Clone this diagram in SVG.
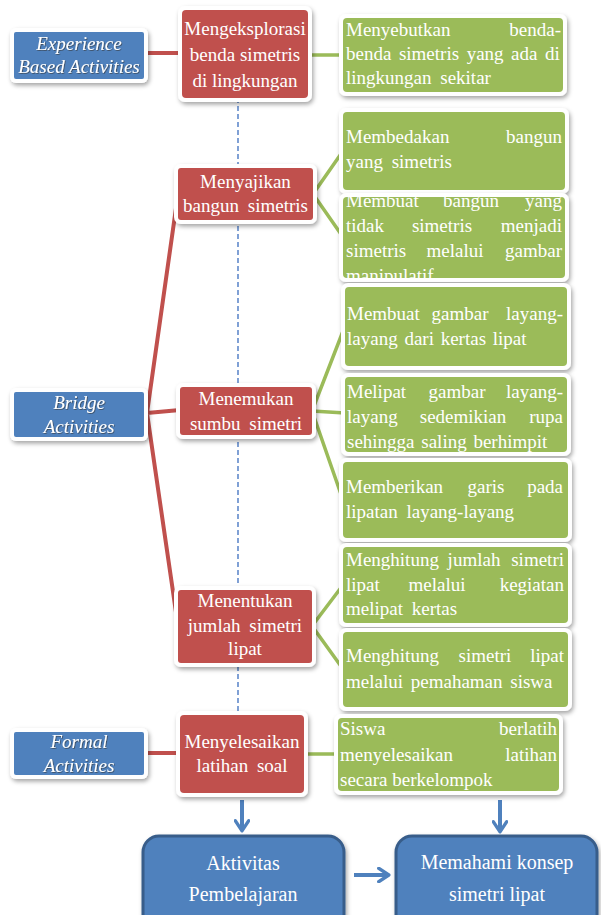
<svg xmlns="http://www.w3.org/2000/svg" width="601" height="915" viewBox="0 0 601 915">
<defs>
<style>
text{font-family:"Liberation Serif","Times New Roman",serif;font-size:19px;fill:#fff}
.c{text-anchor:middle}
.e{text-anchor:end}
.it{font-style:italic;filter:url(#tsh)}
.frame{fill:#fff;filter:url(#sh)}
.red{fill:#C0504D}
.grn{fill:#9BBB59}
.blu{fill:#4F81BD}
.big{fill:#4F81BD;stroke:#385D8A;stroke-width:3;filter:url(#sh)}
.rl{stroke:#C0504D;stroke-width:4;fill:none;stroke-linecap:round}
.gl{stroke:#9BBB59;stroke-width:3.5;fill:none;stroke-linecap:round}
.dash{stroke:#3C6FBF;stroke-width:1.3;stroke-dasharray:5 3;fill:none}
.arr{stroke:#4F81BD;stroke-width:4;fill:none;marker-end:url(#ah)}
.bt{font-size:20px}
</style>
<filter id="sh" x="-10%" y="-10%" width="125%" height="135%">
<feDropShadow dx="1.5" dy="2.5" stdDeviation="2" flood-color="#000" flood-opacity="0.35"/>
</filter>
<filter id="tsh" x="-10%" y="-20%" width="120%" height="150%">
<feDropShadow dx="0.8" dy="0.8" stdDeviation="0.6" flood-color="#333" flood-opacity="0.7"/>
</filter>
<marker id="ah" viewBox="0 0 10 10" refX="7" refY="5" markerWidth="4.2" markerHeight="4.2" orient="auto" markerUnits="strokeWidth">
<path d="M1.5,1 L7.5,5 L1.5,9" fill="none" stroke="#4F81BD" stroke-width="2" stroke-linecap="round" stroke-linejoin="round"/>
</marker>
<clipPath id="clipG3"><rect x="343" y="197" width="222" height="81"/></clipPath>
</defs>
<rect width="601" height="915" fill="#fff"/>

<g id="connectors">
<line class="dash" x1="238" y1="98" x2="238" y2="712"/>
<line class="rl" x1="144" y1="53" x2="182" y2="53"/>
<path class="rl" d="M178,194 L147,413 L178,626 M147,413 L180,410"/>
<line class="rl" x1="144" y1="753" x2="180" y2="753"/>
<line class="gl" x1="308" y1="55" x2="343" y2="55"/>
<path class="gl" d="M343,151 L313,194 L343,237"/>
<path class="gl" d="M345,326 L312,411 L343,500 M312,411 L345,413"/>
<path class="gl" d="M343,585 L312,626 L343,669"/>
<line class="gl" x1="304" y1="754" x2="338" y2="754"/>
<line class="arr" x1="242" y1="800" x2="242" y2="830"/>
<line class="arr" x1="500" y1="800" x2="500" y2="831"/>
<line class="arr" x1="354" y1="875" x2="388" y2="875"/>
</g>

<g id="experience">
<rect class="frame" x="10" y="28" width="138" height="55" rx="6"/>
<rect class="blu" x="14" y="32" width="130" height="47" rx="2"/>
<text class="c it" x="79" y="50">Experience</text>
<text class="c it" x="79" y="73">Based Activities</text>
</g>
<g id="bridge">
<rect class="frame" x="10" y="388" width="138" height="53" rx="6"/>
<rect class="blu" x="14" y="392" width="130" height="45" rx="2"/>
<text class="c it" x="79" y="409">Bridge</text>
<text class="c it" x="79" y="433">Activities</text>
</g>
<g id="formal">
<rect class="frame" x="10" y="728" width="138" height="51" rx="6"/>
<rect class="blu" x="14" y="732" width="130" height="43" rx="2"/>
<text class="c it" x="79" y="748">Formal</text>
<text class="c it" x="79" y="772">Activities</text>
</g>

<g id="r1">
<rect class="frame" x="178" y="6" width="134" height="96" rx="7"/>
<rect class="red" x="182" y="10" width="126" height="88" rx="4"/>
<text class="c" x="245" y="35">Mengeksplorasi</text>
<text class="c" x="245" y="61">benda simetris</text>
<text class="c" x="245" y="87">di lingkungan</text>
</g>
<g id="r2">
<rect class="frame" x="174" y="164" width="143" height="60" rx="7"/>
<rect class="red" x="178" y="168" width="135" height="52" rx="3"/>
<text class="c" x="245.5" y="188">Menyajikan</text>
<text class="c" x="245.5" y="212" word-spacing="4">bangun simetris</text>
</g>
<g id="r3">
<rect class="frame" x="176" y="383" width="140" height="56" rx="7"/>
<rect class="red" x="180" y="387" width="132" height="48" rx="3"/>
<text class="c" x="246" y="405">Menemukan</text>
<text class="c" x="246" y="430" word-spacing="4">sumbu simetri</text>
</g>
<g id="r4">
<rect class="frame" x="174" y="586" width="142" height="81" rx="7"/>
<rect class="red" x="178" y="590" width="134" height="73" rx="3"/>
<text class="c" x="245" y="607">Menentukan</text>
<text class="c" x="245" y="632" word-spacing="4">jumlah simetri</text>
<text class="c" x="245" y="655">lipat</text>
</g>
<g id="r5">
<rect class="frame" x="176" y="711" width="132" height="86" rx="7"/>
<rect class="red" x="180" y="715" width="124" height="78" rx="4"/>
<text class="c" x="242" y="748">Menyelesaikan</text>
<text class="c" x="242" y="772" word-spacing="4">latihan soal</text>
</g>

<g id="g1">
<rect class="frame" x="339" y="14" width="228" height="82" rx="7"/>
<rect class="grn" x="343" y="18" width="220" height="74" rx="4"/>
<text x="346" y="36">Menyebutkan</text>
<text class="e" x="561" y="36">benda-</text>
<text x="346" y="60" word-spacing="2.8">benda simetris yang ada di</text>
<text x="346" y="84" word-spacing="4">lingkungan sekitar</text>
</g>
<g id="g2">
<rect class="frame" x="339" y="108" width="230" height="86" rx="7"/>
<rect class="grn" x="343" y="112" width="222" height="78" rx="4"/>
<text x="346" y="143">Membedakan</text>
<text class="e" x="562" y="143">bangun</text>
<text x="346" y="168" word-spacing="4">yang simetris</text>
</g>
<g id="g3">
<rect class="frame" x="339" y="193" width="230" height="89" rx="7"/>
<rect class="grn" x="343" y="197" width="222" height="81" rx="4"/>
<g clip-path="url(#clipG3)">
<text x="346" y="207">Membuat</text>
<text class="c" x="471" y="207">bangun</text>
<text class="e" x="562" y="207">yang</text>
<text x="346" y="232">tidak</text>
<text class="c" x="442" y="232">simetris</text>
<text class="e" x="562" y="232">menjadi</text>
<text x="346" y="257">simetris</text>
<text class="c" x="455" y="257">melalui</text>
<text class="e" x="562" y="257">gambar</text>
<text x="346" y="282">manipulatif</text>
</g>
</g>
<g id="g4">
<rect class="frame" x="341" y="283" width="230" height="87" rx="7"/>
<rect class="grn" x="345" y="287" width="222" height="79" rx="4"/>
<text x="347" y="320">Membuat</text>
<text class="c" x="460" y="320">gambar</text>
<text class="e" x="563" y="320">layang-</text>
<text x="347" y="345" word-spacing="2">layang dari kertas lipat</text>
</g>
<g id="g5">
<rect class="frame" x="341" y="373" width="230" height="83" rx="7"/>
<rect class="grn" x="345" y="377" width="222" height="75" rx="4"/>
<text x="347" y="398">Melipat</text>
<text class="c" x="457" y="398">gambar</text>
<text class="e" x="563" y="398">layang-</text>
<text x="347" y="423">layang</text>
<text class="c" x="463" y="423">sedemikian</text>
<text class="e" x="563" y="423">rupa</text>
<text x="347" y="448" word-spacing="2">sehingga saling berhimpit</text>
</g>
<g id="g6">
<rect class="frame" x="339" y="458" width="233" height="84" rx="7"/>
<rect class="grn" x="343" y="462" width="225" height="76" rx="4"/>
<text x="346" y="493">Memberikan</text>
<text class="c" x="486" y="493">garis</text>
<text class="e" x="563" y="493">pada</text>
<text x="346" y="518" word-spacing="4">lipatan layang-layang</text>
</g>
<g id="g7">
<rect class="frame" x="339" y="543" width="233" height="84" rx="7"/>
<rect class="grn" x="343" y="547" width="225" height="76" rx="4"/>
<text x="346" y="566">Menghitung</text>
<text class="c" x="474" y="566">jumlah</text>
<text class="e" x="564" y="566">simetri</text>
<text x="346" y="591">lipat</text>
<text class="c" x="437" y="591">melalui</text>
<text class="e" x="564" y="591">kegiatan</text>
<text x="346" y="615" word-spacing="4">melipat kertas</text>
</g>
<g id="g8">
<rect class="frame" x="339" y="628" width="233" height="83" rx="7"/>
<rect class="grn" x="343" y="632" width="225" height="75" rx="4"/>
<text x="346" y="662">Menghitung</text>
<text class="c" x="485" y="662">simetri</text>
<text class="e" x="564" y="662">lipat</text>
<text x="346" y="688" word-spacing="3">melalui pemahaman siswa</text>
</g>
<g id="g9">
<rect class="frame" x="334" y="714" width="229" height="81" rx="7"/>
<rect class="grn" x="338" y="718" width="221" height="73" rx="4"/>
<text x="340" y="735">Siswa</text>
<text class="e" x="557" y="735">berlatih</text>
<text x="340" y="761">menyelesaikan</text>
<text class="e" x="557" y="761">latihan</text>
<text x="340" y="786">secara berkelompok</text>
</g>

<g id="aktivitas">
<rect class="big" x="143" y="836" width="201" height="100" rx="16"/>
<text class="c bt" x="243" y="870">Aktivitas</text>
<text class="c bt" x="243" y="901">Pembelajaran</text>
</g>
<g id="memahami">
<rect class="big" x="396" y="836" width="201" height="100" rx="16"/>
<text class="c bt" x="497" y="869">Memahami konsep</text>
<text class="c bt" x="497" y="901">simetri lipat</text>
</g>
</svg>
